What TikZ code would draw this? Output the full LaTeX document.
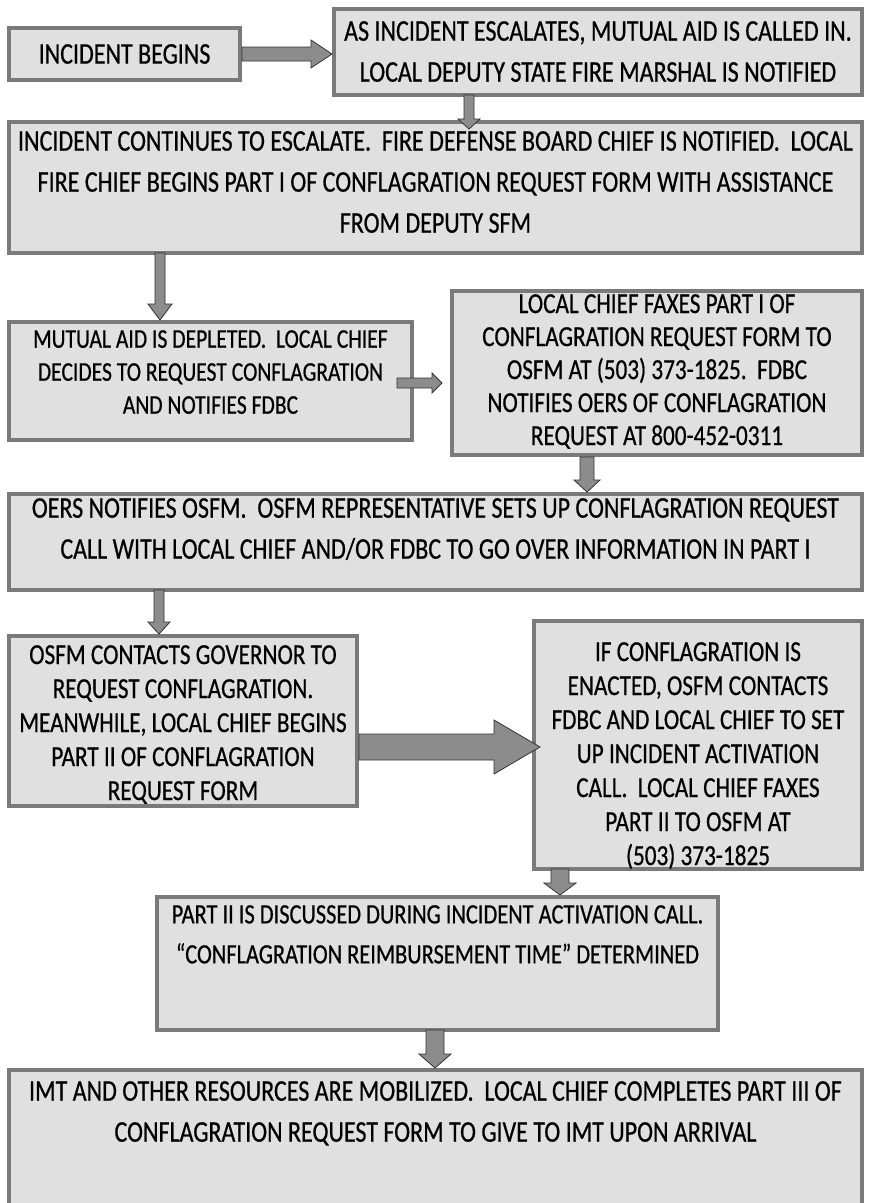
\documentclass[tikz,border=0pt]{standalone}
\usepackage{fontspec}
\setmainfont{Carlito}[FakeStretch=0.8, FakeBold=0.6]
\usetikzlibrary{calc}

\tikzset{
  flowbox/.style={draw=\flowBorderColor, fill=\flowFillColor, line width=\flowBorderWidth,
    inner sep=0pt, anchor=north west},
  bigtext/.style={font=\fontsize{30pt}{41pt}\selectfont, align=center, inner sep=0pt, anchor=north},
  smalltext/.style={font=\fontsize{29pt}{34pt}\selectfont, align=center, inner sep=0pt, anchor=north},
  blkarrow/.style={fill=\flowArrowColor, draw=\flowArrowEdge, line width=0.8pt, line join=miter},
}

\begin{document}
\begin{tikzpicture}[x=1pt, y=-1pt]
% Conflagration request flow, one unit = one pixel of the scan
\providecommand{\flowFillColor}{black!12}
\providecommand{\flowBorderColor}{black!52}
\providecommand{\flowArrowColor}{black!45}
\providecommand{\flowArrowEdge}{black!80}
\providecommand{\flowBorderWidth}{4pt}
% block arrows: start, tip, shaft half width, head half width, head length
\providecommand{\blkdown}[5]{%
  \draw[blkarrow] let \p1=(#1), \p2=(#2) in
    (\x1-#3,\y1) -- (\x1-#3,\y2+#5) -- (\x1-#4,\y2+#5) -- (\x1,\y2)
    -- (\x1+#4,\y2+#5) -- (\x1+#3,\y2+#5) -- (\x1+#3,\y1) -- cycle;}
\providecommand{\blkright}[5]{%
  \draw[blkarrow] let \p1=(#1), \p2=(#2) in
    (\x1,\y1+#3) -- (\x2-#5,\y1+#3) -- (\x2-#5,\y1+#4) -- (\x2,\y1)
    -- (\x2-#5,\y1-#4) -- (\x2-#5,\y1-#3) -- (\x1,\y1-#3) -- cycle;}
\useasboundingbox (0,0) rectangle (869,1203);

% Boxes
\node[flowbox, minimum width=231, minimum height=52] (begins) at (7,26) {};
\node[flowbox, minimum width=528, minimum height=86] (escal) at (332,7) {};
\node[flowbox, minimum width=853, minimum height=131] (cont) at (7,120) {};
\node[flowbox, minimum width=403, minimum height=118] (depl) at (7,320) {};
\node[flowbox, minimum width=410, minimum height=164] (fax) at (450,289) {};
\node[flowbox, minimum width=853, minimum height=96] (oers) at (7,492) {};
\node[flowbox, minimum width=348, minimum height=170] (gov) at (7,634) {};
\node[flowbox, minimum width=328, minimum height=248] (enact) at (532,619) {};
\node[flowbox, minimum width=561, minimum height=133] (disc) at (155,895) {};
\node[flowbox, minimum width=853, minimum height=150] (imt) at (7,1068) {};

% Texts
\node[bigtext, anchor=center] (tBegins) at (begins.center) {INCIDENT BEGINS};
\node[bigtext] (tEscal) at ([yshift=-14pt]escal.north)
  {AS INCIDENT ESCALATES, MUTUAL AID IS CALLED IN.\\
   LOCAL DEPUTY STATE FIRE MARSHAL IS NOTIFIED};
\node[bigtext] (tCont) at ([yshift=-11pt]cont.north)
  {INCIDENT CONTINUES TO ESCALATE.\ \ FIRE DEFENSE BOARD CHIEF IS NOTIFIED.\ \ LOCAL\\
   FIRE CHIEF BEGINS PART I OF CONFLAGRATION REQUEST FORM WITH ASSISTANCE\\
   FROM DEPUTY SFM};
\node[smalltext, font=\fontsize{27pt}{33pt}\selectfont] (tDepl) at ([yshift=-10pt]depl.north)
  {MUTUAL AID IS DEPLETED.\ \ LOCAL CHIEF\\
   DECIDES TO REQUEST CONFLAGRATION\\
   AND NOTIFIES FDBC};
\node[smalltext, font=\fontsize{29pt}{33pt}\selectfont] (tFax) at ([yshift=-5pt]fax.north)
  {LOCAL CHIEF FAXES PART I OF\\
   CONFLAGRATION REQUEST FORM TO\\
   OSFM AT (503) 373-1825.\ \ FDBC\\
   NOTIFIES OERS OF CONFLAGRATION\\
   REQUEST AT 800-452-0311};
\node[bigtext] (tOers) at ([yshift=-6pt]oers.north)
  {OERS NOTIFIES OSFM.\ \ OSFM REPRESENTATIVE SETS UP CONFLAGRATION REQUEST\\
   CALL WITH LOCAL CHIEF AND/OR FDBC TO GO OVER INFORMATION IN PART I};
\node[smalltext] (tGov) at ([yshift=-11pt]gov.north)
  {OSFM CONTACTS GOVERNOR TO\\
   REQUEST CONFLAGRATION.\\
   MEANWHILE, LOCAL CHIEF BEGINS\\
   PART II OF CONFLAGRATION\\
   REQUEST FORM};
\node[smalltext] (tEnact) at ([yshift=-23pt]enact.north)
  {IF CONFLAGRATION IS\\
   ENACTED, OSFM CONTACTS\\
   FDBC AND LOCAL CHIEF TO SET\\
   UP INCIDENT ACTIVATION\\
   CALL.\ \ LOCAL CHIEF FAXES\\
   PART II TO OSFM AT\\
   (503) 373-1825};
\node[bigtext, font=\fontsize{28pt}{40pt}\selectfont] (tDisc) at ([yshift=-10pt]disc.north)
  {PART II IS DISCUSSED DURING INCIDENT ACTIVATION CALL.\\
   “CONFLAGRATION REIMBURSEMENT TIME” DETERMINED};
\node[bigtext] (tImt) at ([yshift=-13pt]imt.north)
  {IMT AND OTHER RESOURCES ARE MOBILIZED.\ \ LOCAL CHIEF COMPLETES PART III OF\\
   CONFLAGRATION REQUEST FORM TO GIVE TO IMT UPON ARRIVAL};

% Arrows
\coordinate (a2s) at ([xshift=137pt,yshift=2pt]escal.south west);
\coordinate (a3s) at ([xshift=153pt,yshift=2pt]cont.south west);
\coordinate (a4s) at ([xshift=-17pt,yshift=-2pt]depl.east);
\coordinate (a5s) at ([xshift=137pt]fax.south west);
\coordinate (a6s) at ([xshift=152pt,yshift=2pt]oers.south west);
\coordinate (a7s) at ([yshift=-26pt]gov.east);
\coordinate (a8s) at ([xshift=28pt,yshift=2pt]enact.south west);
\coordinate (a9s) at ([xshift=280pt,yshift=2pt]disc.south west);
\blkright{begins.east}{begins.east -| escal.west}{7pt}{14pt}{21pt}
\blkdown{a2s}{[yshift=-9pt]a2s |- cont.north}{5pt}{11pt}{10pt}
\blkdown{a3s}{a3s |- depl.north}{5pt}{12pt}{16pt}
\blkright{a4s}{[xshift=-8pt]a4s -| fax.west}{5pt}{10pt}{10pt}
\blkdown{a5s}{a5s |- oers.north}{7pt}{13pt}{12pt}
\blkdown{a6s}{a6s |- gov.north}{5pt}{11pt}{12pt}
\blkright{a7s}{[xshift=8pt]a7s -| enact.west}{13pt}{27pt}{46pt}
\blkdown{a8s}{a8s |- disc.north}{9pt}{16pt}{12pt}
\blkdown{a9s}{a9s |- imt.north}{9pt}{16pt}{14pt}
\end{tikzpicture}
\end{document}
